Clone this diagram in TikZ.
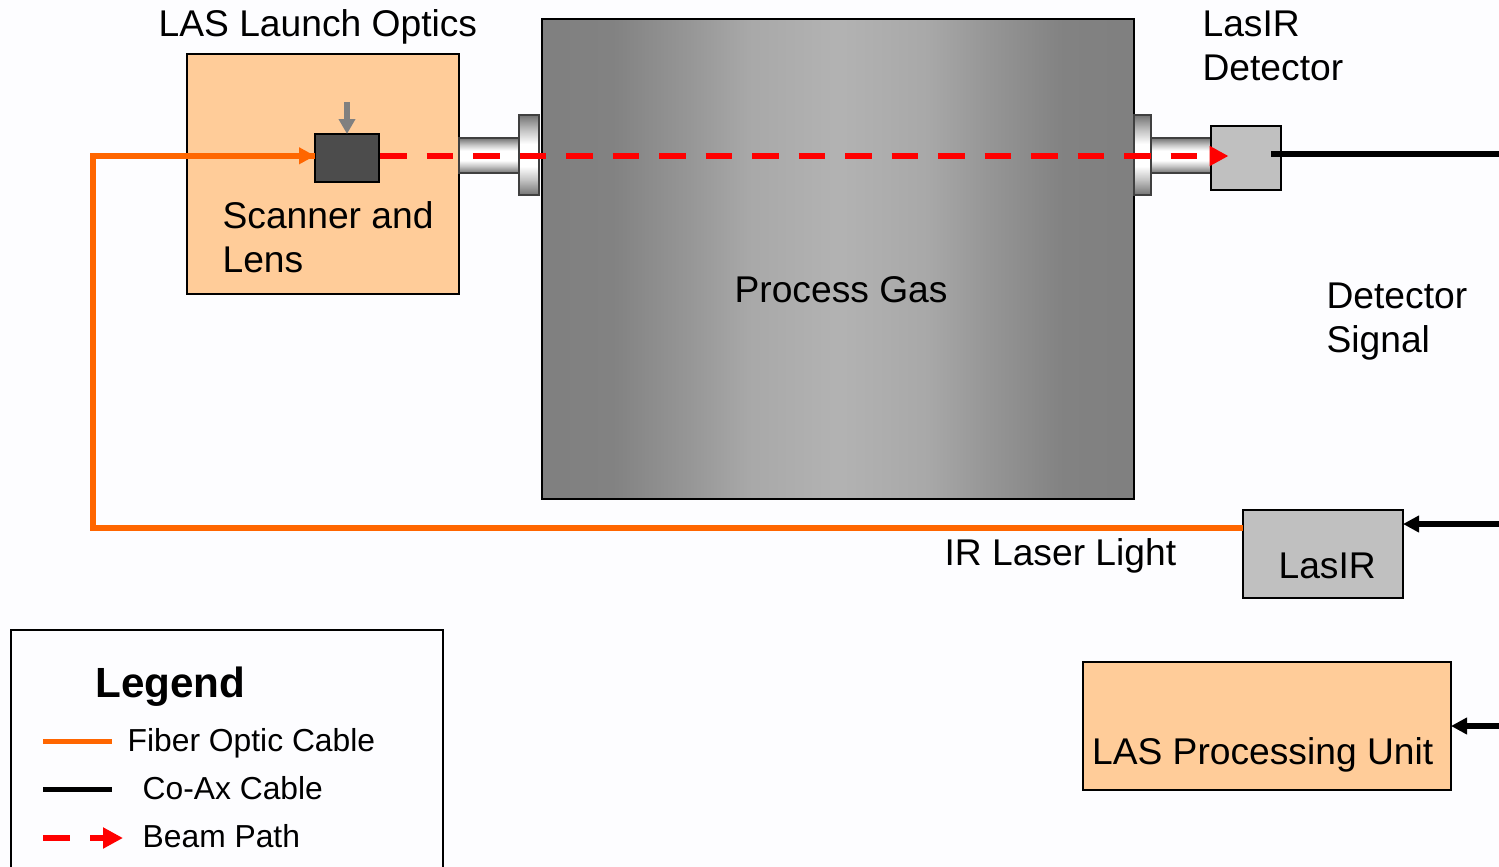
\documentclass[tikz,border=0pt]{standalone}
\usepackage{fontspec}
\setmainfont{Liberation Sans}
\usetikzlibrary{arrows.meta}
\definecolor{fiberc}{HTML}{FF6600}
\definecolor{peach}{HTML}{FFCC99}
\definecolor{boxgrey}{HTML}{C0C0C0}
\definecolor{bgc}{HTML}{FDFDFF}
\pgfdeclarehorizontalshading{gasshade}{100bp}{
  color(0bp)=(black!50);
  color(25bp)=(black!50);
  color(31bp)=(black!49);
  color(37.5bp)=(black!41);
  color(42.5bp)=(black!34);
  color(50bp)=(black!30);
  color(57.5bp)=(black!34);
  color(62.5bp)=(black!41);
  color(69bp)=(black!49);
  color(75bp)=(black!50);
  color(100bp)=(black!50)}
\pgfdeclareverticalshading{metalshade}{100bp}{
  color(0bp)=(black!55);
  color(25bp)=(black!55);
  color(35bp)=(black!22);
  color(43bp)=(white);
  color(57bp)=(white);
  color(65bp)=(black!22);
  color(75bp)=(black!55);
  color(100bp)=(black!55)}
\tikzset{
  px/.style={x=0.5pt,y=-0.5pt},
  boxbase/.style={draw=black,line width=1pt,inner sep=0pt,outer sep=0pt},
  peachbox/.style={boxbase,fill=peach},
  greybox/.style={boxbase,fill=boxgrey},
  gasbox/.style={boxbase,shading=gasshade},
  metal/.style={draw=black!75,line width=0.8pt,inner sep=0pt,outer sep=0pt,shading=metalshade},
  fiber/.style={draw=fiberc,line width=2.8pt,line join=miter},
  fibertip/.style={-{Triangle[length=8pt,width=8pt,fill=fiberc]}},
  coax/.style={draw=black,line width=2.8pt},
  coaxtip/.style={-{Triangle[length=8pt,width=8pt,fill=black]}},
  beam/.style={draw=red,line width=3.2pt,dash pattern=on 13.25pt off 10pt},
  beamtip/.style={-{Triangle[length=9.5pt,width=9.5pt,fill=red]}},
  lbl/.style={anchor=base west,inner sep=0pt,font=\fontsize{18.6pt}{22pt}\selectfont},
  leg/.style={anchor=base west,inner sep=0pt,font=\fontsize{15.9pt}{19pt}\selectfont},
}
\begin{document}
\begin{tikzpicture}[px]
\useasboundingbox (0,0) rectangle (1499,867);
\fill[bgc] (0,0) rectangle (1499,867);

% Launch box and chamber
\node[peachbox,minimum width=136pt,minimum height=120pt] (launch) at (323,174) {};
\node[metal,minimum width=30pt,minimum height=17.5pt] (tubeL) at (489,155.5) {};
\node[metal,minimum width=10pt,minimum height=40pt] (flangeL) at (529,155) {};
\node[gasbox,minimum width=296pt,minimum height=240pt] (gas) at (838,259) {};
\node[metal,minimum width=30pt,minimum height=17.5pt] (tubeR) at (1181,155.5) {};
\node[metal,minimum width=8.5pt,minimum height=40pt] (flangeR) at (1142.5,155) {};
\node[greybox,minimum width=35pt,minimum height=32pt] (det) at (1246,158) {};
\node[boxbase,fill=black!70,minimum width=32pt,minimum height=24pt] (scanner) at (347,158) {};

% Other boxes
\node[greybox,minimum width=80pt,minimum height=44pt] (lasir) at (1323,554) {};
\node[peachbox,minimum width=184pt,minimum height=64pt] (proc) at (1267,726) {};

% Named free ends
\coordinate (fibStart) at (1243,527.8);
\coordinate (fibCorner) at (92.8,155.8);
\coordinate (fibTipTail) at (300,155.8);
\coordinate (beamEnd) at (1228.5,156);
\coordinate (coaxDetIn) at (1271,154);
\coordinate (coaxDetOut) at (1499,154);
\coordinate (coaxLas) at (1499,524);
\coordinate (coaxProc) at (1499,726);
\coordinate (focusTop) at (347,102);

% Connectors
\draw[fiber] (fibStart) -| (fibCorner) -- (scanner.west |- fibCorner);
\draw[fiber,fibertip] (fibTipTail) -- (scanner.west |- fibCorner);
\draw[draw=gray,line width=3pt,-{Triangle[length=7.5pt,width=8pt,fill=gray]}] (focusTop) -- (scanner.north);
\draw[beam,beamtip,shorten <=0.6pt] (scanner.east |- beamEnd) -- (beamEnd);
\draw[coax] (coaxDetIn) -- (coaxDetOut);
\draw[coax,coaxtip] (coaxLas) -- (lasir.east |- coaxLas);
\draw[coax,coaxtip] (coaxProc) -- (proc.east |- coaxProc);

% Labels
\node[lbl] (tLaunch) at (158.3,36) {LAS Launch Optics};
\node[lbl] (tDet1) at (1202.2,36) {LasIR};
\node[lbl] (tDet2) at (1202.2,80) {Detector};
\node[lbl] (tScan1) at (222.2,228) {Scanner and};
\node[lbl] (tScan2) at (222.2,272) {Lens};
\node[lbl] (tGas) at (734.2,302) {Process Gas};
\node[lbl] (tSig1) at (1326.2,308) {Detector};
\node[lbl] (tSig2) at (1326.2,352) {Signal};
\node[lbl] (tIR) at (944.2,565) {IR Laser Light};
\node[lbl] (tLas) at (1278.2,578) {LasIR};
\node[lbl] (tProc) at (1091.7,764) {LAS Processing Unit};

% Legend
\draw[draw=black,line width=1pt] (11,868) -- (11,630) -- (443,630) -- (443,868);
\node[anchor=base west,inner sep=0pt,font=\fontsize{21.1pt}{25pt}\selectfont\bfseries] (tLeg) at (95,697) {Legend};
\coordinate (lgA) at (43,741.5);
\coordinate (lgB) at (112,741.5);
\coordinate (lgC) at (43,789.5);
\coordinate (lgD) at (112,789.5);
\coordinate (lgE) at (43,838);
\coordinate (lgF) at (70,838);
\coordinate (lgG) at (90,838);
\coordinate (lgH) at (123,838);
\draw[fiber] (lgA) -- (lgB);
\draw[coax] (lgC) -- (lgD);
\draw[draw=red,line width=3.2pt] (lgE) -- (lgF);
\draw[draw=red,line width=3.2pt,-{Triangle[length=10pt,width=10pt,fill=red]}] (lgG) -- (lgH);
\node[leg] (tFib) at (127.3,751) {Fiber Optic Cable};
\node[leg] (tCoax) at (142.3,799) {Co-Ax Cable};
\node[leg] (tBeam) at (142.3,847) {Beam Path};
\end{tikzpicture}
\end{document}
